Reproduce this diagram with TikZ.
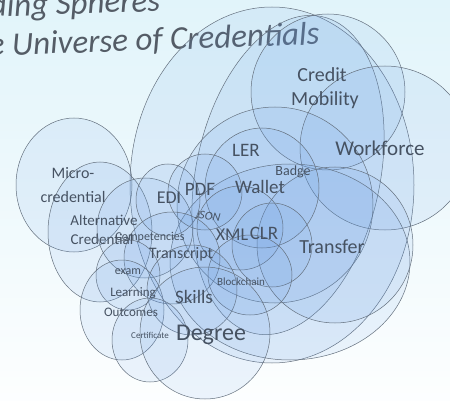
\documentclass[tikz,border=0pt]{standalone}
\usepackage{fontspec}
\usepackage{tikz}
\usepackage[rgb]{xcolor}
\setmainfont{Carlito}
\definecolor{spherefill}{RGB}{100,155,228}
\definecolor{rim}{RGB}{100,112,126}
\definecolor{ink}{RGB}{70,82,98}
\definecolor{titleink}{RGB}{84,92,102}
\definecolor{bgcyan}{RGB}{225,244,250}

\begin{document}
\begin{tikzpicture}[x=1pt,y=-1pt,
	sphere/.style={draw=rim, line width=0.5pt, fill=spherefill, fill opacity=0.11},
	lbl/.style={text=ink, inner sep=0pt},
	ttl/.style={text=titleink, inner sep=0pt, anchor=base west, rotate=2, font=\fontsize{33}{35}\selectfont\itshape}]
	\useasboundingbox (0,0) rectangle (450,401);
	\clip (0,0) rectangle (450,401);
	\shade[top color=bgcyan, bottom color=white!92!bgcyan] (0,0) rectangle (450,401);
	% title
	\node[ttl] (title1) at (-10,17) {ding Spheres};
	\node[ttl] (title2) at (-11,56) {e Universe of Credentials};
	% large spheres
	\draw[sphere] (272,185) ellipse [x radius=142, y radius=178];
	\draw[sphere, rotate around={-12:(288,175)}] (288,175) ellipse [x radius=92, y radius=162];
	\draw[sphere] (328,92) ellipse [x radius=77, y radius=78];
	\draw[sphere] (385,148) ellipse [x radius=85, y radius=82];
	\draw[sphere] (275,205) ellipse [x radius=98, y radius=98];
	\draw[sphere] (290,262) ellipse [x radius=120, y radius=98];
	\draw[sphere] (335,245) ellipse [x radius=78, y radius=78];
	\draw[sphere] (262,188) ellipse [x radius=57, y radius=60];
	% left spheres
	\draw[sphere] (74,185) ellipse [x radius=58, y radius=67];
	\draw[sphere] (100,232) ellipse [x radius=52, y radius=70];
	\draw[sphere] (145,228) ellipse [x radius=48, y radius=50];
	% middle spheres
	\draw[sphere] (168,200) ellipse [x radius=32, y radius=36];
	\draw[sphere] (205,192) ellipse [x radius=37, y radius=38];
	\draw[sphere] (240,228) ellipse [x radius=43, y radius=42];
	\draw[sphere] (272,245) ellipse [x radius=40, y radius=42];
	\draw[sphere] (172,258) ellipse [x radius=48, y radius=46];
	\draw[sphere] (250,275) ellipse [x radius=42, y radius=40];
	% lower spheres
	\draw[sphere] (128,275) ellipse [x radius=32, y radius=35];
	\draw[sphere] (122,310) ellipse [x radius=42, y radius=50];
	\draw[sphere] (192,290) ellipse [x radius=45, y radius=45];
	\draw[sphere] (150,340) ellipse [x radius=38, y radius=42];
	\draw[sphere] (205,333) ellipse [x radius=65, y radius=66];
	% labels
	\node[lbl, font=\fontsize{20}{22}\selectfont] (credit) at (322,75) {Credit};
	\node[lbl, font=\fontsize{20}{22}\selectfont] (mobility) at (325,100) {Mobility};
	\node[lbl, font=\fontsize{21}{23}\selectfont] (workforce) at (380,148) {Workforce};
	\node[lbl, font=\fontsize{19}{21}\selectfont] (ler) at (246,150) {LER};
	\node[lbl, font=\fontsize{14}{16}\selectfont] (badge) at (293,172) {Badge};
	\node[lbl, font=\fontsize{19}{21}\selectfont] (wallet) at (260,187) {Wallet};
	\node[lbl, font=\fontsize{19}{21}\selectfont] (pdf) at (200,189) {PDF};
	\node[lbl, font=\fontsize{18}{20}\selectfont] (edi) at (169,198) {EDI};
	\node[lbl, font=\fontsize{12}{14}\selectfont\itshape, rotate=-8] (json) at (208,216) {JSON};
	\node[lbl, font=\fontsize{18}{20}\selectfont] (xml) at (232,235) {XML};
	\node[lbl, font=\fontsize{19}{21}\selectfont] (clr) at (264,233) {CLR};
	\node[lbl, font=\fontsize{20}{22}\selectfont] (transfer) at (332,247) {Transfer};
	\node[lbl, font=\fontsize{16}{18}\selectfont] (micro) at (73,173) {Micro-};
	\node[lbl, font=\fontsize{16}{18}\selectfont] (credential) at (73,197) {credential};
	\node[lbl, font=\fontsize{15}{17}\selectfont] (alt) at (104,220) {Alternative};
	\node[lbl, font=\fontsize{15}{17}\selectfont] (altcred) at (102,239) {Credential};
	\node[lbl, font=\fontsize{12}{14}\selectfont] (comp) at (150,237) {Competencies};
	\node[lbl, font=\fontsize{16}{18}\selectfont] (transcript) at (181,254) {Transcript};
	\node[lbl, font=\fontsize{12}{14}\selectfont] (exam) at (128,272) {exam};
	\node[lbl, font=\fontsize{13}{15}\selectfont] (learning) at (133,293) {Learning};
	\node[lbl, font=\fontsize{13}{15}\selectfont] (outcomes) at (131,312) {Outcomes};
	\node[lbl, font=\fontsize{19}{21}\selectfont] (skills) at (194,297) {Skills};
	\node[lbl, font=\fontsize{11}{13}\selectfont] (blockchain) at (241,282) {Blockchain};
	\node[lbl, font=\fontsize{9}{11}\selectfont] (certificate) at (150,335) {Certificate};
	\node[lbl, font=\fontsize{24}{26}\selectfont] (degree) at (211,335) {Degree};
\end{tikzpicture}
\end{document}
